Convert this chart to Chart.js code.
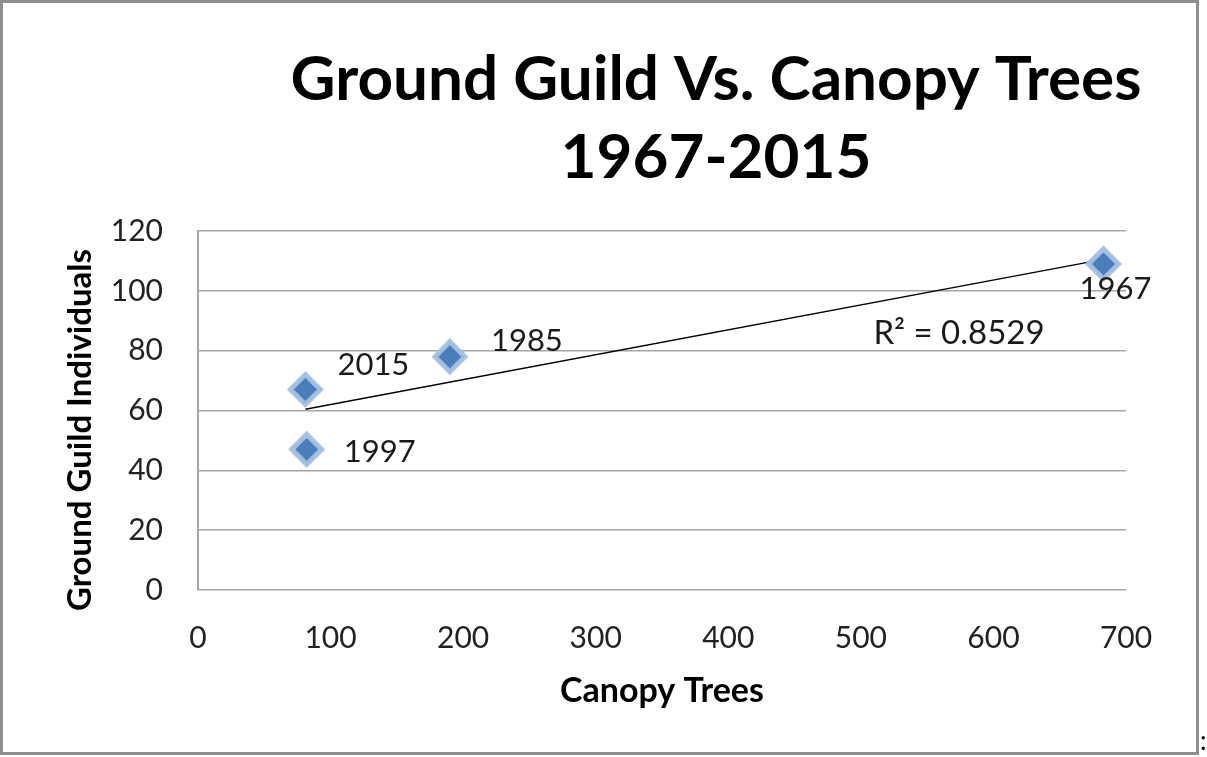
<!DOCTYPE html>
<html>
<head>
<meta charset="utf-8">
<script src="https://cdn.jsdelivr.net/npm/chart.js@4.4.1/dist/chart.umd.min.js"></script>
<style>
  html, body { margin: 0; padding: 0; background: #fff; }
  #wrap { position: relative; width: 1207px; height: 757px; }
  #frame { position: absolute; left: 0; top: 0; width: 1193px; height: 749px; border: 3px solid #8f8f8f; pointer-events: none; }
  #colon { position: absolute; left: 1200px; top: 724px; font: 26px Lato, sans-serif; color: #000; }
</style>
</head>
<body>
<div id="wrap">
  <canvas id="chart" width="1207" height="757"></canvas>
  <div id="frame"></div>
  <div id="colon">:</div>
</div>
<script>
// 數據
const years = ["1967", "1985", "1997", "2015"];
const canopyTrees = [683, 190, 82, 81];
const groundGuild = [109, 78, 47, 67];
const rSquared = "R² = 0.8529";
const xTicks = [0, 100, 200, 300, 400, 500, 600, 700];
const yTicks = [0, 20, 40, 60, 80, 100, 120];

// 線性趨勢線
const n = canopyTrees.length;
const mx = canopyTrees.reduce((a, b) => a + b, 0) / n;
const my = groundGuild.reduce((a, b) => a + b, 0) / n;
let sxy = 0, sxx = 0;
canopyTrees.forEach((x, i) => {
  sxy += (x - mx) * (groundGuild[i] - my);
  sxx += (x - mx) * (x - mx);
});
const slope = sxy / sxx;
const intercept = my - slope * mx;
const xMin = Math.min(...canopyTrees);
const xMax = Math.max(...canopyTrees);
const trend = [xMin, xMax].map(x => ({ x: x, y: intercept + slope * x }));

// 標籤偏移（像素）
const labelOffsets = {
  "1967": [12, 25],
  "1985": [77, -16],
  "1997": [73, 3],
  "2015": [68, -25]
};

const font = "Lato, 'Open Sans', sans-serif";

const extraText = {
  id: "extraText",
  afterDatasetsDraw(chart) {
    const ctx = chart.ctx;
    const xs = chart.scales.x, ys = chart.scales.y;
    ctx.save();
    ctx.fillStyle = "#000";
    // 標題
    ctx.font = "bold 62px " + font;
    ctx.textAlign = "center";
    ctx.textBaseline = "alphabetic";
    ctx.fillText("Ground Guild Vs. Canopy Trees", 716, 100);
    ctx.fillText("1967-2015", 716, 178);
    // Y 軸標題
    ctx.save();
    ctx.translate(80, 430);
    ctx.rotate(-Math.PI / 2);
    ctx.font = "bold 33px " + font;
    ctx.textBaseline = "middle";
    ctx.fillText("Ground Guild Individuals", 0, 0);
    ctx.restore();
    // 點標籤
    ctx.font = "31px " + font;
    ctx.fillStyle = "#1a1a1a";
    ctx.textBaseline = "middle";
    years.forEach((yr, i) => {
      const px = xs.getPixelForValue(canopyTrees[i]);
      const py = ys.getPixelForValue(groundGuild[i]);
      const off = labelOffsets[yr];
      ctx.fillText(yr, px + off[0], py + off[1]);
    });
    // R²
    ctx.font = "33px " + font;
    ctx.fillText(rSquared, 959, 333);
    ctx.restore();
  }
};

new Chart(document.getElementById("chart").getContext("2d"), {
  type: "scatter",
  data: {
    datasets: [
      {
        label: "Ground Guild",
        data: canopyTrees.map((x, i) => ({ x: x, y: groundGuild[i] })),
        pointStyle: "rectRot",
        pointRadius: 15,
        pointHoverRadius: 15,
        backgroundColor: "#4a7ebb",
        borderColor: "rgba(167,192,224,0.95)",
        pointBorderWidth: 5
      },
      {
        label: "Trend",
        type: "line",
        data: trend,
        borderColor: "#000",
        borderWidth: 1.5,
        pointRadius: 0,
        fill: false
      }
    ]
  },
  plugins: [extraText],
  options: {
    responsive: false,
    animation: false,
    layout: { padding: { top: 231, right: 81, left: 0, bottom: 0 } },
    plugins: {
      legend: { display: false },
      tooltip: { enabled: false },
      title: { display: false }
    },
    scales: {
      x: {
        type: "linear",
        min: 0,
        max: 700,
        afterBuildTicks: s => { s.ticks = xTicks.map(v => ({ value: v })); },
        afterFit: s => { s.height = 167; },
        grid: { display: false, drawTicks: false },
        border: { display: false },
        ticks: { font: { family: font, size: 30 }, color: "#222", padding: 30 },
        title: {
          display: true,
          text: "Canopy Trees",
          font: { family: font, size: 34, weight: "bold" },
          color: "#000",
          padding: { top: 0, bottom: 46 }
        }
      },
      y: {
        type: "linear",
        min: 0,
        max: 120,
        afterBuildTicks: s => { s.ticks = yTicks.map(v => ({ value: v })); },
        afterFit: s => { s.width = 198; },
        grid: { color: "#a6a6a6", lineWidth: 1.5, drawTicks: false },
        border: { display: true, color: "#a6a6a6", width: 2 },
        ticks: { font: { family: font, size: 30 }, color: "#222", padding: 35 }
      }
    }
  }
});
</script>
</body>
</html>
